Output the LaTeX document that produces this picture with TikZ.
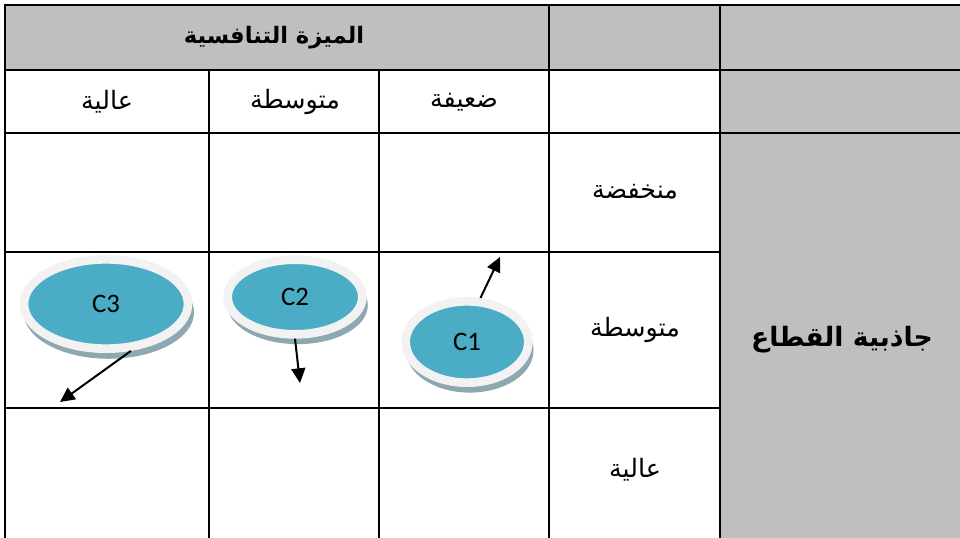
\documentclass[tikz,border=0pt]{standalone}
\usepackage{fontspec}
\newfontfamily\arabicfont[Script=Arabic]{DejaVu Sans}
\setsansfont{Carlito}
\TeXXeTstate=1
\usetikzlibrary{arrows.meta, shapes.geometric, shadows}
\definecolor{cellgray}{HTML}{BFBFBF}
\definecolor{blobteal}{HTML}{4BACC6}
\definecolor{blobring}{HTML}{F2F2F2}
\definecolor{blobshade}{HTML}{8EA8B2}

\begin{document}
\begin{tikzpicture}[x=0.75pt, y=-0.75pt]
\tikzset{grid/.style={draw=black, line width=1.6pt, line cap=rect},
		shade/.style={fill=cellgray},
		lbl/.style={inner sep=0pt, font=\arabicfont\fontsize{19}{22}\selectfont},
		bold/.style={inner sep=0pt, font=\arabicfont\bfseries\fontsize{17}{20}\selectfont},
		blob/.style={ellipse, fill=blobteal, draw=blobring, line width=6.5pt, inner sep=0pt,
			font=\sffamily\fontsize{20}{24}\selectfont,
			drop shadow={shadow xshift=2pt, shadow yshift=-6pt, shadow scale=1.04, fill=blobshade, opacity=1}},
		move/.style={-{Triangle[length=11pt, width=10.5pt]}, line width=1.5pt}}
\useasboundingbox (0,0) rectangle (960,538);
% shaded cells
\fill[shade] (5,5) rectangle (962,70);
\fill[shade] (720,70) rectangle (962,540);
% table rules
\draw[grid] (5,5) -- (962,5) (5,70) -- (962,70) (5,133) -- (962,133)
	(5,252) -- (720,252) (5,408) -- (720,408);
\draw[grid] (5,5) -- (5,540) (549,5) -- (549,540) (720,5) -- (720,540)
	(209,70) -- (209,540) (379,70) -- (379,540);
% headers
\node[bold] (MZ) at (274,38) {\beginR الميزة التنافسية\endR};
\node[lbl] (MZh) at (107,102) {\beginR عالية\endR};
\node[lbl] (MZm) at (295,102) {\beginR متوسطة\endR};
\node[lbl] (MZl) at (464,102) {\beginR ضعيفة\endR};
\node[bold, font=\arabicfont\bfseries\fontsize{20}{24}\selectfont] (JQ) at (842,340) {\beginR جاذبية القطاع\endR};
\node[lbl] (JQl) at (635,192) {\beginR منخفضة\endR};
\node[lbl] (JQm) at (635,330) {\beginR متوسطة\endR};
\node[lbl] (JQh) at (635,470) {\beginR عالية\endR};
% positions
\node[blob, minimum width=123pt, minimum height=67pt] (C3) at (106,304) {C3};
\node[blob, minimum width=101pt, minimum height=56pt] (C2) at (295,297) {C2};
\node[blob, minimum width=92pt, minimum height=61pt] (C1) at (467,342) {C1};
\coordinate (C3to) at (60,402);
\coordinate (C2to) at (300,383);
\coordinate (C1to) at (500,257);
\draw[move] (C3.-62) -- (C3to);
\draw[move] (C2.south) -- (C2to);
\draw[move] (C1.73) -- (C1to);
\end{tikzpicture}
\end{document}
